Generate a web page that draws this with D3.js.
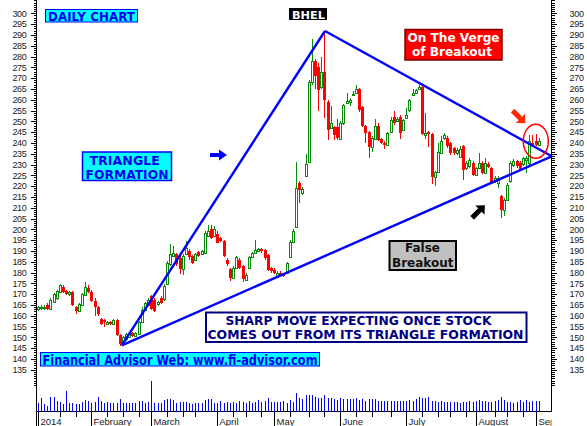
<!DOCTYPE html>
<html><head><meta charset="utf-8">
<script src="https://cdn.jsdelivr.net/npm/d3@7"></script>
<style>body{margin:0;background:#fff}svg{display:block}</style>
</head><body>
<svg id="c" width="587" height="426"></svg>
<script>
// ---------- DATA ----------
const opens = [
163,163.5,163.7,165,163,166.5,168,171,173.5,171.5,
170,171,164,162,165,169.5,173,171,167,164,
158.5,158,156,157,156,158,151,147,149,150,
152,150.5,151.5,157,162.5,165,169,167.5,165.5,168.4,
167.6,174.5,183.8,187.6,188.4,186.8,181.5,188.4,190,187.5,
186,189.5,188.4,189,197,200,197,197.6,196,194.5,
186,181.5,177.6,182,186,183,176.5,182,187,189,
190,191,190.5,188,182,181,178,180,179.5,180,
187,194,201,221.5,217,224.5,231,268,278,275,
266,273,259,247,247.5,247.5,242,249,258.5,259,
262.5,263,265,256.7,248,245,238,242,248,242,
240,239,245,252,250,252,246,251.7,255,262,
263,265,266,243.5,245,244,224,226.5,235.3,242.2,
242.2,239.9,237.6,235.5,233.7,238.4,228.4,229.1,230.7,225.3,
228.4,230.7,226,230,228.4,222.2,221.4,215.3,209.1,213.7,
222.2,229.9,231.4,230.7,230,232,230.7,240,240.7,239];
const highs = [
164.5,165,165,166,168,170.5,172,174.5,174,172,
171.5,171.5,164.5,166,170.5,175.5,174,172,168,164.5,
159,158.5,157.5,157.5,158.5,158.5,151.5,150.5,152,152.5,
152.5,152.5,157.5,164,166.5,168,169.5,168,167,169,
174.5,185.5,193,192.5,189,187.5,188.5,194.5,191,188,
189,190,190.5,199,202,202,201.5,199,196.5,195,
186.5,182,183,187.5,186.5,183.5,180,187.5,189.5,195,
191.5,191.5,191,188.5,182.5,182,180.5,180.5,180,185,
195,200,231,222.5,219.5,235,269,288,279,277,
280,292,260,257,248,251,250,258,263,261,
264,266.8,265.5,257,248.5,245.5,243,251,249,242.5,
241,245,252,255,252,253,251,256,260.5,265,
265,267,267,253.8,245.5,244.5,227,240,243,244.5,
243,240.5,238,237.5,238.5,239,231.5,233,231.5,229,
235.3,231.5,233,231,229,224.5,224.5,216,214.5,221.5,
231.5,232.5,232,231.5,233.5,234,243.7,243.7,244,242.5];
const lows = [
162,162.5,162.8,162.5,162.5,166,167.5,170.5,170.5,169.5,
169,164.5,161,161.5,164.5,169,170.5,166.5,160,160,
155.5,155,155.5,155.5,155.5,150.5,146,146.5,148.5,149.5,
150,150,151,156.5,162,164.5,162.5,161.5,164.5,165.5,
167,174,183,187,183,179.5,179,188,186,184,
185.5,187,188,188.5,196.5,195.5,196.5,193.5,194,187,
183,176,177,181.5,181.5,175.5,176,181.5,186.5,188.5,
189.5,189,186,180.5,180,179.5,177.5,178.5,178,179.5,
186.5,193.5,200.5,212,216,224,230.5,267,265,255,
265,251.5,241.5,246.5,241.5,241.5,241.5,248.5,258,257,
261.5,262.5,254.5,247.5,240,233,236,241.5,241,239.5,
237,238.5,244.5,248.5,249.5,242,245.5,251,254.5,261.5,
262.5,264.5,243.5,242,238,221,220,226,235,241.5,
237.5,234.5,234.5,234.5,233,223,227.5,228.5,224.5,224.5,
228,225.5,225.5,228.5,221,221.5,219,205.3,206,213,
221.5,229,228.5,227,229.5,226,230,238,238.5,238.5];
const closes = [
164,164,164.2,163,167.5,170,171.5,174,171,170,
171,165,162,165.5,170,173.5,171,167,164,161,
156,157,157,156,158,151,147,150,151.5,152,
150.5,152,157,162.5,166,167.5,163,162.2,166.5,166,
173.8,184.5,188.4,189,183.8,181.5,187.6,191.5,187,184.5,
188.4,187.6,190,198.4,199,196,200,193.8,194.5,187.6,
183.8,177.6,182.2,187,182,177,179,187,189,190.5,
191,190,186.5,181,180.5,180,180,179,178.5,184.5,
194,199,219,218,218.5,230,268,278,271,264.5,
273,260,246,249,243.8,242.5,249,257.5,259.5,260,
262.8,265,255,248,244.7,238,242.4,248,241.5,240,
239,244.6,250.7,249,251,244.7,250.7,253,260,263,
264.5,266,244,244.5,244,224,226.5,236,240.7,243.8,
238.4,235.3,235.3,236.5,237.1,227.6,230.7,232.2,225.3,228.4,
230.7,226,230.7,229,221.4,223.7,223.7,209.1,213.7,220.7,
230.7,231.4,229.1,227.6,233,233,240.7,239,239,240.7];
const volumes = [
9,13.3,7.7,5.7,14.3,14.3,10.7,9.3,7.7,20.7,
9,9,7.7,7.7,10,11.7,11,9,9.3,14.3,
10.7,9,9.3,8.3,8.3,9,12.3,9,9,9,
9,9,10.7,10.7,9,10,30.7,
9,8.3,9,11.7,12.3,12.3,11.7,9,10,10,
10,8.3,7.7,9,8.3,8.3,11.7,12.3,12.3,9,
9,11,9,10,9,10,8.3,11,10,9,
11,9,10,11.7,10,11,13.3,10,10,10,
10,11,9,
11.7,10,18.3,13.3,12.3,16.7,16.7,16.7,15,13.3,
14,16.7,13.3,14,12.3,11.7,13.3,12.3,12.3,12.3,
12.3,13.3,11.7,12.3,11,12.3,12.3,12.3,11,10.7,
10.7,11,11,11,11,11,11,10.7,11.7,10.7,
12.3,14.3,13.3,14,14.3,
11,11,10,10.7,10,9.3,10,9.3,9.3,8.3,
10,10,10.7,10,10.7,11.7,10.7,10.7,10,10,
10.7,12,14.3,11.7,10,10,9,10,11.7,10,
11.7,10,10.7,10.7,10.7];
const monthTicks = [0,17,36,57,75,96,117,139,158];
const monthLabels = ["2014","February","March","April","May","June","July","August","Sep"];
const weekTicks = [7,12,22,27,32,41,46,50,62,66,71,80,86,91,101,106,112,122,127,131,136,145,149,154];
const priceTicks = d3.range(135,301,5);
const minorTicks = d3.range(128,307,1);
// triangle trend lines (bar index, price)
const triA = [[26.5,146.3],[91,291.8]];
const triB = [[91,291.8],[163,233.8]];
const triC = [[26.5,146.3],[163,233.8]];

// ---------- SCALES ----------
const svg = d3.select("#c");
const x = d3.scaleLinear().domain([0,159]).range([38.3,539.15]);
const y = d3.scaleLinear().domain([135,300]).range([369.7,13.3]);
const yv = d3.scaleLinear().domain([0,30.7]).range([411.7,381]);
const AXL = 36.5, AXR = 551.5, AXB = 411.5;
const GREEN = "#0a8a0a", RED = "#ff0000", BLUE = "#0000ff";

svg.append("rect").attr("width",587).attr("height",426).attr("fill","#fff");

// ---------- AXES ----------
function yAxis(gen, tx, size, labels, pad) {
  const g = svg.append("g").attr("transform",`translate(${tx},0)`)
    .call(gen(y).tickValues(labels ? priceTicks : minorTicks).tickSize(size).tickPadding(pad||3)
      .tickFormat(labels ? d3.format("d") : ""));
  g.select(".domain").remove();
  g.selectAll("line").attr("stroke","#000").attr("shape-rendering","crispEdges");
  g.selectAll("text").attr("font-family","Liberation Sans, Arial, sans-serif")
    .attr("font-size","9px").attr("fill","#1a1a1a").attr("letter-spacing","-0.3");
  return g;
}
yAxis(d3.axisLeft, AXL, 3, false);
yAxis(d3.axisLeft, AXL, 6, true, 4);
yAxis(d3.axisRight, AXR, 3, false);
yAxis(d3.axisRight, AXR, 5, true, 13);

svg.append("line").attr("x1",AXL).attr("x2",AXL).attr("y1",0).attr("y2",426)
  .attr("stroke","#000").attr("shape-rendering","crispEdges");
svg.append("line").attr("x1",AXR).attr("x2",AXR).attr("y1",0).attr("y2",AXB)
  .attr("stroke","#000").attr("shape-rendering","crispEdges");
svg.append("line").attr("x1",AXL).attr("x2",AXR).attr("y1",AXB).attr("y2",AXB)
  .attr("stroke","#000").attr("shape-rendering","crispEdges");

// x axis ticks
const gx = svg.append("g");
gx.selectAll("line.m").data(monthTicks).join("line").attr("class","m")
  .attr("x1",d=>Math.floor(x(d))+0.5).attr("x2",d=>Math.floor(x(d))+0.5)
  .attr("y1",AXB).attr("y2",426).attr("stroke","#000").attr("shape-rendering","crispEdges");
gx.selectAll("line.w").data(weekTicks).join("line").attr("class","w")
  .attr("x1",d=>Math.floor(x(d))+0.5).attr("x2",d=>Math.floor(x(d))+0.5)
  .attr("y1",AXB).attr("y2",AXB+5).attr("stroke","#000").attr("shape-rendering","crispEdges");
svg.append("clipPath").attr("id","xc").append("rect").attr("x",AXL).attr("y",AXB).attr("width",AXR-AXL).attr("height",20);
gx.append("g").attr("clip-path","url(#xc)").selectAll("text").data(monthTicks).join("text")
  .attr("x",d=>Math.floor(x(d))+2.5).attr("y",424.5).text((d,i)=>monthLabels[i])
  .attr("font-family","Liberation Sans, Arial, sans-serif").attr("font-size","9.5px").attr("fill","#1a1a1a");

// ---------- VOLUME ----------
svg.append("g").selectAll("line").data(volumes).join("line")
  .attr("x1",(d,i)=>Math.floor(x(i))+0.5).attr("x2",(d,i)=>Math.floor(x(i))+0.5)
  .attr("y1",AXB).attr("y2",d=>yv(d)).attr("stroke",BLUE).attr("shape-rendering","crispEdges");

// ---------- CANDLES ----------
const idx = d3.range(opens.length);
const gc = svg.append("g").attr("shape-rendering","crispEdges");
gc.selectAll("line").data(idx).join("line")
  .attr("x1",i=>Math.floor(x(i))+0.5).attr("x2",i=>Math.floor(x(i))+0.5)
  .attr("y1",i=>y(highs[i])).attr("y2",i=>y(lows[i]))
  .attr("stroke",i=>closes[i]>=opens[i]?GREEN:RED);
gc.selectAll("rect").data(idx).join("rect")
  .attr("x",i=>closes[i]>=opens[i]?Math.floor(x(i))-0.5:Math.floor(x(i))-1)
  .attr("width",i=>closes[i]>=opens[i]?2:3)
  .attr("y",i=>Math.round(y(Math.max(opens[i],closes[i])))+(closes[i]>=opens[i]?0.5:0))
  .attr("height",i=>Math.max(1,Math.round(y(Math.min(opens[i],closes[i])))-Math.round(y(Math.max(opens[i],closes[i])))))
  .attr("fill",i=>closes[i]>=opens[i]?"#fff":RED)
  .attr("stroke",i=>closes[i]>=opens[i]?GREEN:"none");

// ---------- TRIANGLE ----------
const line = d3.line().x(d=>x(d[0])).y(d=>y(d[1]));
[triA,triB,triC].forEach(t=>svg.append("path").attr("d",line(t))
  .attr("stroke",BLUE).attr("stroke-width",2.4).attr("fill","none"));

// ---------- ANNOTATIONS ----------
function box(x0,y0,w,h,fill,stroke,sw){
  svg.append("rect").attr("x",x0).attr("y",y0).attr("width",w).attr("height",h)
    .attr("fill",fill).attr("stroke",stroke).attr("stroke-width",sw);
}
function txt(x0,y0,s,o){
  const t = svg.append("text").attr("x",x0).attr("y",y0).text(s)
    .attr("font-family",o.fam||"DejaVu Sans, Verdana, sans-serif")
    .attr("font-size",o.size+"px").attr("font-weight",o.bold?"bold":"normal")
    .attr("fill",o.fill).attr("text-anchor",o.anchor||"start");
  if (o.len) t.attr("textLength",o.len).attr("lengthAdjust","spacingAndGlyphs");
  return t;
}
box(45.5,9.5,92,12.5,"#00ffff",BLUE,1);
txt(48,20.5,"DAILY CHART",{size:11.5,bold:true,fill:"#0000ee",len:87});

box(289,8,38,12,"#000","none",0);
txt(292,18.5,"BHEL",{size:11,bold:true,fill:"#fff",len:33});

box(405,29.5,97,30.5,"#ff0000","#800000",1.5);
txt(407.5,42,"On The Verge",{size:12.5,bold:true,fill:"#fff",len:92});
txt(412,55.5,"of Breakout",{size:12.5,bold:true,fill:"#fff",len:80});

box(82.5,152,89,28.5,"#00ffff",BLUE,1.5);
txt(89.5,164.5,"TRIANGLE",{size:12,bold:true,fill:"#0000ee",len:70.5});
txt(85.5,178.5,"FORMATION",{size:12,bold:true,fill:"#0000ee",len:83});

box(389.5,241,66.5,29,"#c0c0c0","#000",2);
txt(405,252,"False",{size:12.5,bold:true,fill:"#111",len:35});
txt(392,266.5,"Breakout",{size:12.5,bold:true,fill:"#111",len:61.5});

box(206,312.5,320.5,29.5,"#fff","#000080",2);
txt(225.5,324.5,"SHARP MOVE EXPECTING ONCE STOCK",{size:11.5,bold:true,fill:"#000080",len:266});
txt(207.5,338.5,"COMES OUT FROM ITS TRIANGLE FORMATION",{size:11.5,bold:true,fill:"#000080",len:316});

box(40.5,352.5,279,13.5,"#00ffff",BLUE,1);
txt(42.5,364.5,"Financial Advisor Web: www.fi-advisor.com",{size:14,bold:true,fill:"#0000ee",len:275});

// arrows
svg.append("path").attr("d","M210,153 L219,153 L219,149.5 L227,155 L219,160.5 L219,157 L210,157 Z").attr("fill",BLUE);
const arrowShape = "M-9,-2.5 L2,-2.5 L2,-6.5 L9,0 L2,6.5 L2,2.5 L-9,2.5 Z";
svg.append("path").attr("d",arrowShape).attr("transform","translate(519,117) rotate(45)").attr("fill","#ff2a00");
svg.append("path").attr("d",arrowShape).attr("transform","translate(478.5,211.5) rotate(-45)").attr("fill","#000");

svg.append("ellipse").attr("cx",535.8).attr("cy",141.2).attr("rx",12.5).attr("ry",17)
  .attr("fill","none").attr("stroke","#ff0000").attr("stroke-width",1.5);
</script>
</body></html>
